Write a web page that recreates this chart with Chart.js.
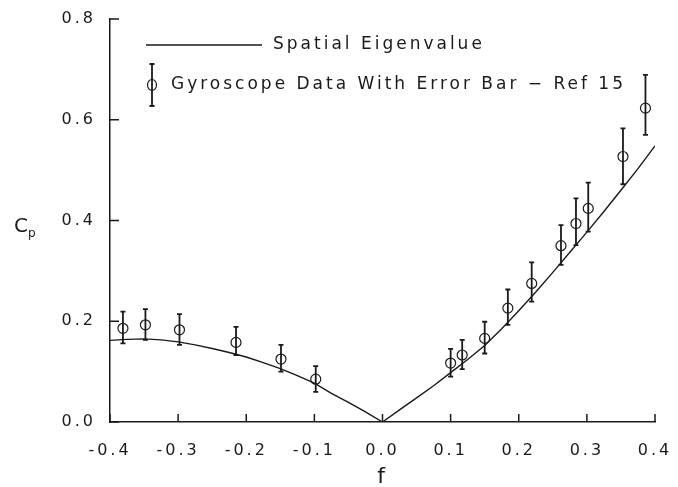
<!DOCTYPE html>
<html>
<head>
<meta charset="utf-8">
<script src="https://cdn.jsdelivr.net/npm/chart.js@4.4.1/dist/chart.umd.min.js"></script>
<style>
    html, body { margin: 0; padding: 0; background: #fff; }
    #wrap { width: 678px; height: 487px; position: relative; }
</style>
</head>
<body>
<div id="wrap"><canvas id="grafico"></canvas></div>
<script>
// curva del autovalor espacial
const fCurva = [-0.4, -0.375, -0.35, -0.325, -0.3, -0.275, -0.25, -0.225, -0.2, -0.175, -0.15, -0.125, -0.1, -0.075, -0.05, -0.025, 0,
    0.025, 0.05, 0.075, 0.1, 0.125, 0.15, 0.175, 0.2, 0.225, 0.25, 0.275, 0.3, 0.325, 0.35, 0.375, 0.4];
const cpCurva = [0.162, 0.164, 0.165, 0.163, 0.159, 0.153, 0.146, 0.138, 0.129, 0.118, 0.106, 0.092, 0.077, 0.057, 0.039, 0.020, 0,
    0.024, 0.048, 0.072, 0.098, 0.124, 0.152, 0.185, 0.221, 0.258, 0.297, 0.337, 0.377, 0.418, 0.460, 0.503, 0.548];

// datos del giroscopio (Ref 15) con barra de error
const fDatos = [-0.381, -0.348, -0.298, -0.215, -0.149, -0.098, 0.100, 0.117, 0.150, 0.184, 0.219, 0.262, 0.284, 0.302, 0.353, 0.386];
const cpDatos = [0.186, 0.193, 0.183, 0.158, 0.125, 0.085, 0.117, 0.133, 0.166, 0.226, 0.275, 0.350, 0.394, 0.424, 0.527, 0.623];
const cpMin = [0.156, 0.163, 0.153, 0.133, 0.100, 0.060, 0.090, 0.105, 0.136, 0.193, 0.239, 0.312, 0.351, 0.378, 0.472, 0.570];
const cpMax = [0.219, 0.224, 0.214, 0.189, 0.153, 0.111, 0.145, 0.163, 0.199, 0.263, 0.317, 0.391, 0.444, 0.475, 0.583, 0.689];

const etiquetas = ['Spatial Eigenvalue', 'Gyroscope Data With Error Bar \u2212 Ref 15'];

const FUENTE = '"DejaVu Sans", sans-serif';
const TINTA = '#1a1a1a';

function puntos(xs, ys) {
    const out = [];
    for (let i = 0; i < xs.length; i++) {
        out.push({ x: xs[i], y: ys[i] });
    }
    return out;
}

function fmt(v) {
    if (Math.abs(v) < 1e-9) return '0.0';
    return v.toFixed(1);
}

const espaciado = {
    id: 'espaciado',
    beforeLayout: function (chart) { chart.ctx.letterSpacing = '3px'; },
    beforeDraw: function (chart) { chart.ctx.letterSpacing = '3px'; }
};

const marcasInternas = {
    id: 'marcasInternas',
    afterDraw: function (chart) {
        const ctx = chart.ctx;
        const area = chart.chartArea;
        const sx = chart.scales.x;
        const sy = chart.scales.y;
        ctx.save();
        ctx.strokeStyle = TINTA;
        ctx.lineWidth = 1.5;
        ctx.beginPath();
        sx.ticks.forEach(function (t) {
            const px = sx.getPixelForValue(t.value);
            ctx.moveTo(px, area.bottom);
            ctx.lineTo(px, area.bottom - 8);
        });
        sy.ticks.forEach(function (t) {
            const py = sy.getPixelForValue(t.value);
            ctx.moveTo(area.left, py);
            ctx.lineTo(area.left + 9, py);
        });
        ctx.stroke();
        ctx.restore();
    }
};

const barrasError = {
    id: 'barrasError',
    afterDatasetsDraw: function (chart) {
        const ctx = chart.ctx;
        const sx = chart.scales.x;
        const sy = chart.scales.y;
        ctx.save();
        ctx.strokeStyle = TINTA;
        ctx.lineWidth = 1.8;
        ctx.beginPath();
        for (let i = 0; i < fDatos.length; i++) {
            const px = sx.getPixelForValue(fDatos[i]);
            const y1 = sy.getPixelForValue(cpMin[i]);
            const y2 = sy.getPixelForValue(cpMax[i]);
            ctx.moveTo(px, y1);
            ctx.lineTo(px, y2);
            ctx.moveTo(px - 2.5, y1);
            ctx.lineTo(px + 2.5, y1);
            ctx.moveTo(px - 2.5, y2);
            ctx.lineTo(px + 2.5, y2);
        }
        ctx.stroke();
        ctx.restore();
    }
};

const leyenda = {
    id: 'leyenda',
    afterDraw: function (chart) {
        const ctx = chart.ctx;
        const area = chart.chartArea;
        const x0 = area.left + 36;
        const y1 = area.top + 26;
        const y2 = area.top + 66;
        ctx.save();
        ctx.letterSpacing = '3px';
        ctx.strokeStyle = TINTA;
        ctx.fillStyle = TINTA;
        ctx.font = '17px ' + FUENTE;
        ctx.textBaseline = 'middle';
        ctx.textAlign = 'left';

        ctx.lineWidth = 1.5;
        ctx.beginPath();
        ctx.moveTo(x0, y1);
        ctx.lineTo(x0 + 116, y1);
        ctx.stroke();
        ctx.fillText(chart.data.datasets[0].label, x0 + 127, y1);

        const xb = x0 + 6;
        ctx.lineWidth = 1.8;
        ctx.beginPath();
        ctx.moveTo(xb, y2 - 21);
        ctx.lineTo(xb, y2 + 21);
        ctx.moveTo(xb - 2.5, y2 - 21);
        ctx.lineTo(xb + 2.5, y2 - 21);
        ctx.moveTo(xb - 2.5, y2 + 21);
        ctx.lineTo(xb + 2.5, y2 + 21);
        ctx.stroke();
        ctx.lineWidth = 1.2;
        ctx.beginPath();
        ctx.ellipse(xb, y2, 4.5, 5.5, 0, 0, Math.PI * 2);
        ctx.stroke();
        ctx.fillText(chart.data.datasets[1].label, x0 + 25, y2);
        ctx.restore();
    }
};

const tituloY = {
    id: 'tituloY',
    afterDraw: function (chart) {
        const ctx = chart.ctx;
        const area = chart.chartArea;
        const yc = chart.scales.y.getPixelForValue(0.4);
        ctx.save();
        ctx.letterSpacing = '0px';
        ctx.fillStyle = TINTA;
        ctx.textBaseline = 'middle';
        ctx.textAlign = 'left';
        ctx.font = '20px ' + FUENTE;
        ctx.fillText('C', area.left - 96, yc + 6);
        ctx.font = '12px ' + FUENTE;
        ctx.fillText('p', area.left - 82, yc + 13);
        ctx.restore();
    }
};

const ctx = document.getElementById('grafico').getContext('2d');
new Chart(ctx, {
    type: 'scatter',
    data: {
        datasets: [
            {
                type: 'line',
                label: etiquetas[0],
                data: puntos(fCurva, cpCurva),
                borderColor: TINTA,
                borderWidth: 1.4,
                pointRadius: 0,
                tension: 0,
                fill: false
            },
            {
                label: etiquetas[1],
                data: puntos(fDatos, cpDatos),
                showLine: false,
                pointStyle: 'circle',
                pointRadius: 5,
                pointBorderWidth: 1.2,
                pointBorderColor: TINTA,
                pointBackgroundColor: 'rgba(0,0,0,0)'
            }
        ]
    },
    options: {
        responsive: true,
        maintainAspectRatio: false,
        animation: false,
        layout: { padding: { left: 0, top: 19, right: 23, bottom: 0 } },
        plugins: {
            legend: { display: false },
            tooltip: { enabled: false }
        },
        scales: {
            x: {
                type: 'linear',
                min: -0.4,
                max: 0.4,
                afterFit: function (s) {
                    s.height = 65;
                    s.paddingLeft = 0;
                    s.paddingRight = 0;
                },
                grid: { display: false, drawTicks: false },
                border: { display: true, color: TINTA, width: 1.5 },
                ticks: {
                    stepSize: 0.1,
                    padding: 19,
                    color: TINTA,
                    font: { family: FUENTE, size: 16 },
                    maxRotation: 0,
                    callback: function (v) { return fmt(v); }
                },
                title: {
                    display: true,
                    text: 'f',
                    color: TINTA,
                    font: { family: FUENTE, size: 22 },
                    padding: { top: 0, bottom: -3 }
                }
            },
            y: {
                type: 'linear',
                min: 0,
                max: 0.8,
                afterFit: function (s) {
                    s.width = 110;
                    s.paddingTop = 0;
                    s.paddingBottom = 0;
                },
                grid: { display: false, drawTicks: false },
                border: { display: true, color: TINTA, width: 1.5 },
                ticks: {
                    stepSize: 0.2,
                    padding: 14,
                    color: TINTA,
                    font: { family: FUENTE, size: 16 },
                    callback: function (v) { return fmt(v); }
                }
            }
        }
    },
    plugins: [espaciado, barrasError, marcasInternas, leyenda, tituloY]
});
</script>
</body>
</html>
